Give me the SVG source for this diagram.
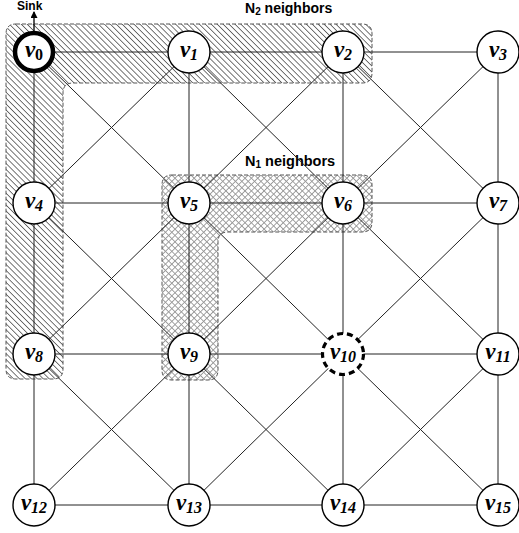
<svg xmlns="http://www.w3.org/2000/svg" width="519" height="533" viewBox="0 0 519 533">
  <style>
    .edge { stroke: #222; stroke-width: 1; fill: none; }
    .node circle { fill: #fff; stroke: #000; stroke-width: 1.4; }
    .lbl { font-family: "Liberation Serif", "Times New Roman", serif; font-weight: bold; font-style: italic; font-size: 23px; fill: #000; text-anchor: middle; }
    .sub { font-size: 16px; }
    .cap { font-family: "Liberation Sans", Arial, sans-serif; font-weight: bold; fill: #000; }
    .zone { stroke: #555; stroke-width: 1; stroke-dasharray: 4 2; }
  </style>
  <defs>
    <pattern id="hatch" width="4.2" height="4.2" patternUnits="userSpaceOnUse" patternTransform="rotate(45)">
      <line x1="0" y1="2.1" x2="4.2" y2="2.1" stroke="#555" stroke-width="0.8"/>
    </pattern>
    <pattern id="cross" width="4.5" height="4.5" patternUnits="userSpaceOnUse" patternTransform="rotate(45)">
      <line x1="0" y1="2.25" x2="4.5" y2="2.25" stroke="#999" stroke-width="0.9"/>
      <line x1="2.25" y1="0" x2="2.25" y2="4.5" stroke="#999" stroke-width="0.9"/>
    </pattern>
    <marker id="arrow" markerWidth="7" markerHeight="7" refX="6" refY="3.5" orient="auto" markerUnits="userSpaceOnUse">
      <path d="M0,0 L7,3.5 L0,7 Z" fill="#000"/>
    </marker>
  </defs>

  <!-- neighbourhood zones -->
  <g id="zone-n2">
    <path class="zone" fill="url(#hatch)" d="M16 24 H362 Q372 24 372 34 V73 Q372 83 362 83 H73 Q63 83 63 93 V369 Q63 379 53 379 H16 Q6 379 6 369 V34 Q6 24 16 24 Z"/>
    <text class="cap" x="245" y="12.5" font-size="14">N<tspan font-size="10" dy="2">2</tspan><tspan dy="-2"> neighbors</tspan></text>
  </g>
  <g id="zone-n1">
    <path class="zone" fill="url(#cross)" d="M172 175 H362 Q372 175 372 185 V222 Q372 232 362 232 H228 Q218 232 218 242 V370 Q218 380 208 380 H172 Q162 380 162 370 V185 Q162 175 172 175 Z"/>
    <text class="cap" x="245" y="166" font-size="14.5">N<tspan font-size="10" dy="2">1</tspan><tspan dy="-2"> neighbors</tspan></text>
  </g>

  <!-- grid links: rows, columns and both diagonals of every cell -->
  <g id="connectors">
    <!-- horizontal -->
    <line class="edge" x1="34" y1="52" x2="498" y2="52"/>
    <line class="edge" x1="34" y1="203" x2="498" y2="203"/>
    <line class="edge" x1="34" y1="354" x2="498" y2="354"/>
    <line class="edge" x1="34" y1="505" x2="498" y2="505"/>
    <!-- vertical -->
    <line class="edge" x1="34" y1="52" x2="34" y2="505"/>
    <line class="edge" x1="189" y1="52" x2="189" y2="505"/>
    <line class="edge" x1="343" y1="52" x2="343" y2="505"/>
    <line class="edge" x1="498" y1="52" x2="498" y2="505"/>
    <!-- diagonals row 0-1 -->
    <line class="edge" x1="34" y1="52" x2="189" y2="203"/>
    <line class="edge" x1="189" y1="52" x2="34" y2="203"/>
    <line class="edge" x1="189" y1="52" x2="343" y2="203"/>
    <line class="edge" x1="343" y1="52" x2="189" y2="203"/>
    <line class="edge" x1="343" y1="52" x2="498" y2="203"/>
    <line class="edge" x1="498" y1="52" x2="343" y2="203"/>
    <!-- diagonals row 1-2 -->
    <line class="edge" x1="34" y1="203" x2="189" y2="354"/>
    <line class="edge" x1="189" y1="203" x2="34" y2="354"/>
    <line class="edge" x1="189" y1="203" x2="343" y2="354"/>
    <line class="edge" x1="343" y1="203" x2="189" y2="354"/>
    <line class="edge" x1="343" y1="203" x2="498" y2="354"/>
    <line class="edge" x1="498" y1="203" x2="343" y2="354"/>
    <!-- diagonals row 2-3 -->
    <line class="edge" x1="34" y1="354" x2="189" y2="505"/>
    <line class="edge" x1="189" y1="354" x2="34" y2="505"/>
    <line class="edge" x1="189" y1="354" x2="343" y2="505"/>
    <line class="edge" x1="343" y1="354" x2="189" y2="505"/>
    <line class="edge" x1="343" y1="354" x2="498" y2="505"/>
    <line class="edge" x1="498" y1="354" x2="343" y2="505"/>
    <!-- sink uplink -->
    <line x1="34" y1="31" x2="34" y2="12" stroke="#000" stroke-width="1.3" marker-end="url(#arrow)"/>
  </g>
  <text class="cap" x="17" y="10" font-size="12">Sink</text>

  <!-- sensor nodes -->
  <g id="v0" class="node"><circle cx="34" cy="52" r="19" style="stroke-width:4.5"/><text class="lbl" x="34" y="57">v<tspan class="sub" dy="3" font-style="normal">0</tspan></text></g>
  <g id="v1" class="node"><circle cx="189" cy="52" r="21"/><text class="lbl" x="189" y="57">v<tspan class="sub" dy="3">1</tspan></text></g>
  <g id="v2" class="node"><circle cx="343" cy="52" r="21"/><text class="lbl" x="343" y="57">v<tspan class="sub" dy="3">2</tspan></text></g>
  <g id="v3" class="node"><circle cx="498" cy="52" r="21"/><text class="lbl" x="498" y="57">v<tspan class="sub" dy="3">3</tspan></text></g>

  <g id="v4" class="node"><circle cx="34" cy="203" r="21"/><text class="lbl" x="34" y="208">v<tspan class="sub" dy="3">4</tspan></text></g>
  <g id="v5" class="node"><circle cx="189" cy="203" r="21"/><text class="lbl" x="189" y="208">v<tspan class="sub" dy="3">5</tspan></text></g>
  <g id="v6" class="node"><circle cx="343" cy="203" r="21"/><text class="lbl" x="343" y="208">v<tspan class="sub" dy="3">6</tspan></text></g>
  <g id="v7" class="node"><circle cx="498" cy="203" r="21"/><text class="lbl" x="498" y="208">v<tspan class="sub" dy="3">7</tspan></text></g>

  <g id="v8" class="node"><circle cx="34" cy="354" r="21"/><text class="lbl" x="34" y="359">v<tspan class="sub" dy="3">8</tspan></text></g>
  <g id="v9" class="node"><circle cx="189" cy="354" r="21"/><text class="lbl" x="189" y="359">v<tspan class="sub" dy="3">9</tspan></text></g>
  <g id="v10" class="node"><circle cx="343" cy="354" r="20.5" style="stroke-width:3.2;stroke-dasharray:6 4"/><text class="lbl" x="343" y="359">v<tspan class="sub" dy="3">10</tspan></text></g>
  <g id="v11" class="node"><circle cx="498" cy="354" r="21"/><text class="lbl" x="498" y="359">v<tspan class="sub" dy="3">11</tspan></text></g>

  <g id="v12" class="node"><circle cx="34" cy="505" r="21"/><text class="lbl" x="34" y="510">v<tspan class="sub" dy="3">12</tspan></text></g>
  <g id="v13" class="node"><circle cx="189" cy="505" r="21"/><text class="lbl" x="189" y="510">v<tspan class="sub" dy="3">13</tspan></text></g>
  <g id="v14" class="node"><circle cx="343" cy="505" r="21"/><text class="lbl" x="343" y="510">v<tspan class="sub" dy="3">14</tspan></text></g>
  <g id="v15" class="node"><circle cx="498" cy="505" r="21"/><text class="lbl" x="498" y="510">v<tspan class="sub" dy="3">15</tspan></text></g>
</svg>
